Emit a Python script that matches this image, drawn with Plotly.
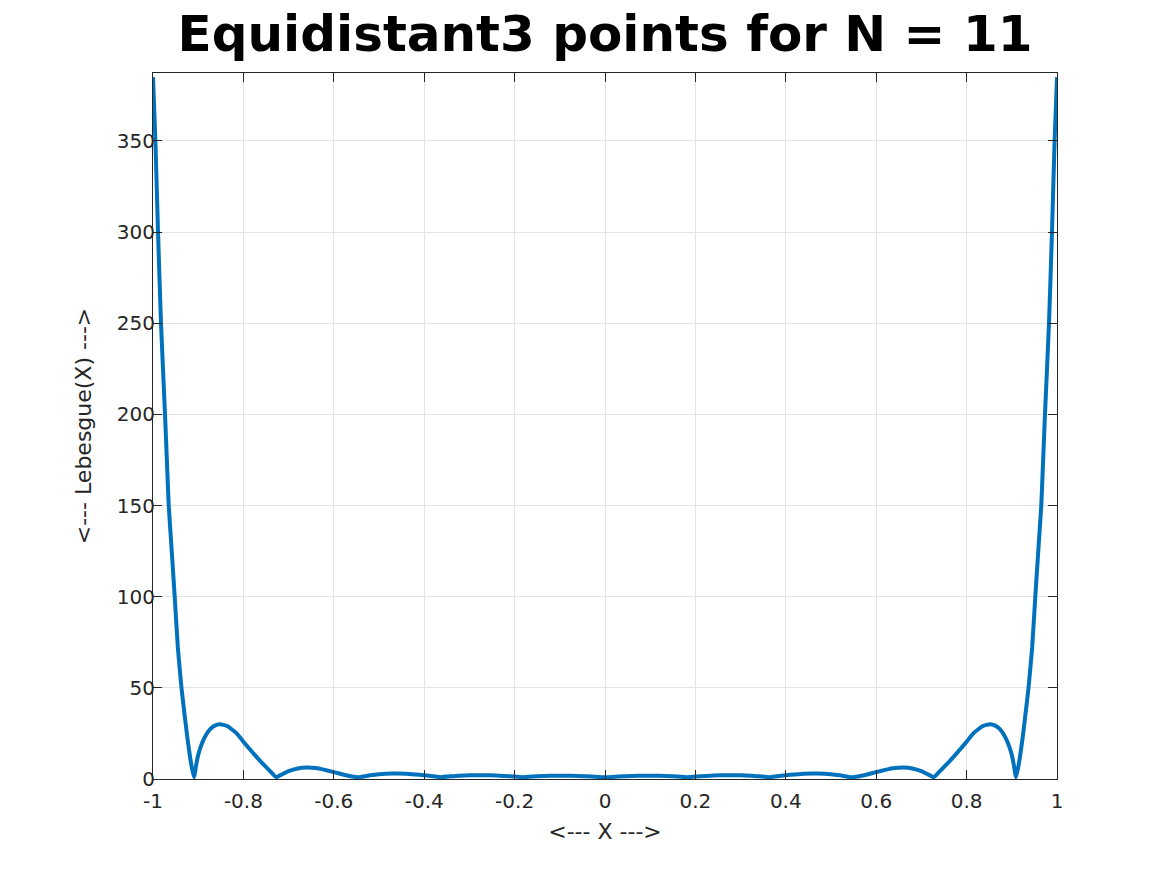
import plotly.graph_objects as go

# Values
x_vals = [
    -1.000, -0.9947, -0.9889, -0.9823, -0.9734, -0.969, -0.9652, -0.958, -0.952, -0.945,
    -0.937, -0.930, -0.924, -0.918, -0.913, -0.9091,
    -0.905, -0.901, -0.894, -0.886, -0.878, -0.871, -0.862, -0.853, -0.844, -0.835,
    -0.826, -0.816, -0.808, -0.800, -0.788, -0.776, -0.765, -0.754, -0.741, -0.7273,
    -0.715, -0.700, -0.680, -0.660, -0.640, -0.620, -0.600, -0.580, -0.560, -0.5455,
    -0.520, -0.500, -0.470, -0.440, -0.410, -0.380, -0.3636,
    -0.330, -0.300, -0.270, -0.240, -0.210, -0.1818,
    -0.150, -0.120, -0.090, -0.060, -0.030, 0.000,
    0.030, 0.060, 0.090, 0.120, 0.150,
    0.1818, 0.210, 0.240, 0.270, 0.300, 0.330,
    0.3636, 0.380, 0.410, 0.440, 0.470, 0.500, 0.520,
    0.5455, 0.560, 0.580, 0.600, 0.620, 0.640, 0.660, 0.680, 0.700, 0.715,
    0.7273, 0.741, 0.754, 0.765, 0.776, 0.788, 0.800, 0.808, 0.816, 0.826,
    0.835, 0.844, 0.853, 0.862, 0.871, 0.878, 0.886, 0.894, 0.901, 0.905,
    0.9091, 0.913, 0.918, 0.924, 0.930, 0.937,
    0.945, 0.952, 0.958, 0.9652, 0.969, 0.9734, 0.9823, 0.9889, 0.9947, 1.000,
]
y_vals = [
    385.0, 350.0, 300.0, 250.0, 200.0, 173.0, 150.0, 123.0, 100.0, 72.0,
    50.0, 35.0, 22.7, 12.0, 5.0, 1.0,
    7.0, 12.2, 18.0, 22.7, 26.0, 28.0, 29.4, 30.0, 29.7, 28.9,
    27.3, 25.3, 23.0, 20.4, 17.0, 13.5, 10.5, 7.6, 4.3, 1.0,
    2.5, 4.3, 5.8, 6.3, 6.0, 5.0, 3.8, 2.5, 1.4, 1.0,
    2.0, 2.6, 3.0, 2.9, 2.3, 1.5, 1.0,
    1.7, 2.0, 2.1, 1.9, 1.5, 1.0,
    1.5, 1.75, 1.8, 1.7, 1.4, 1.0,
    1.4, 1.7, 1.8, 1.75, 1.5,
    1.0, 1.5, 1.9, 2.1, 2.0, 1.7,
    1.0, 1.5, 2.3, 2.9, 3.0, 2.6, 2.0,
    1.0, 1.4, 2.5, 3.8, 5.0, 6.0, 6.3, 5.8, 4.3, 2.5,
    1.0, 4.3, 7.6, 10.5, 13.5, 17.0, 20.4, 23.0, 25.3, 27.3,
    28.9, 29.7, 30.0, 29.4, 28.0, 26.0, 22.7, 18.0, 12.2, 7.0,
    1.0, 5.0, 12.0, 22.7, 35.0, 50.0,
    72.0, 100.0, 123.0, 150.0, 173.0, 200.0, 250.0, 300.0, 350.0, 385.0,
]
x_ticks = [-1, -0.8, -0.6, -0.4, -0.2, 0, 0.2, 0.4, 0.6, 0.8, 1]
x_tick_labels = ["-1", "-0.8", "-0.6", "-0.4", "-0.2", "0", "0.2", "0.4", "0.6", "0.8", "1"]
y_ticks = [0, 50, 100, 150, 200, 250, 300, 350]
y_tick_labels = ["0", "50", "100", "150", "200", "250", "300", "350"]

fig = go.Figure()
fig.add_trace(go.Scatter(
    x=x_vals, y=y_vals, mode="lines",
    line=dict(color="#0072BD", width=4, shape="spline", smoothing=0.4),
    showlegend=False,
))

axis_common = dict(
    showline=True, linecolor="#262626", linewidth=1, mirror="ticks",
    ticks="inside", ticklen=9, tickcolor="#262626", tickwidth=1,
    showgrid=True, gridcolor="#e3e3e3", gridwidth=1, zeroline=False,
    tickfont=dict(family="DejaVu Sans", size=20, color="#262626"),
)

fig.update_layout(
    width=1167, height=875,
    paper_bgcolor="white", plot_bgcolor="white",
    margin=dict(l=145, r=118, t=65, b=104),
    title=dict(
        text="<b>Equidistant3 points for N = 11</b>",
        x=(145 + 452) / 1167, xanchor="center",
        y=1 - 25 / 875, yanchor="middle",
        font=dict(family="DejaVu Sans", size=50, color="black"),
    ),
    xaxis=dict(
        range=[-1, 1], tickvals=x_ticks, ticktext=x_tick_labels,
        ticklabelstandoff=4,
        title=dict(text="<--- X --->", font=dict(family="DejaVu Sans", size=22, color="#262626"), standoff=11),
        **axis_common,
    ),
    yaxis=dict(
        range=[0, 387.3], tickvals=y_ticks, ticktext=y_tick_labels,
        ticklabelstandoff=-7,
        title=dict(text="<--- Lebesgue(X) --->", font=dict(family="DejaVu Sans", size=22, color="#262626"), standoff=19),
        **axis_common,
    ),
)

fig.write_html("out.html")
